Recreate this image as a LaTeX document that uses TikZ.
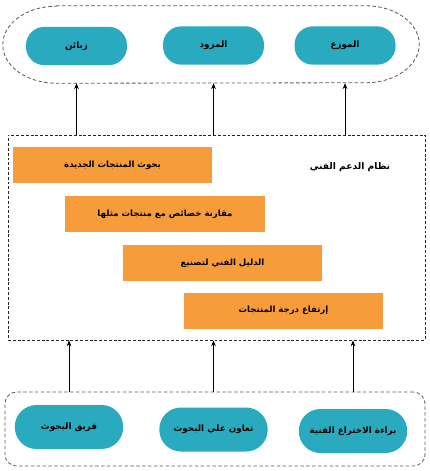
\documentclass[tikz,border=0pt]{standalone}
\usepackage{fontspec}
\newfontfamily\arabicfont[Script=Arabic]{DejaVu Sans}
\TeXXeTstate=1
\usepackage{xcolor}
\usetikzlibrary{arrows.meta,positioning}
\definecolor{cPill}{HTML}{2AAABF}
\definecolor{cBar}{HTML}{F69C3A}
\definecolor{cDash}{HTML}{5A5A5A}
\newcommand{\artxt}[1]{{\arabicfont\bfseries\beginR #1\endR}}

\begin{document}
\begin{tikzpicture}[x=0.03cm,y=-0.03cm,
  frame/.style={draw=cDash,dash pattern=on 3pt off 2pt,line width=0.7pt,inner sep=0pt},
  pill/.style={fill=cPill,rounded corners=0.55cm,minimum width=3.03cm,minimum height=1.15cm,
    inner sep=0pt,font=\fontsize{7.5}{9}\selectfont},
  bpill/.style={pill,rounded corners=0.65cm,minimum width=3.25cm,minimum height=1.32cm},
  bar/.style={fill=cBar,minimum width=5.97cm,minimum height=1.08cm,inner sep=0pt,
    font=\fontsize{7.3}{8.5}\selectfont},
  flow/.style={-{Stealth[length=5pt,width=4pt]},line width=0.6pt}]

  \useasboundingbox (0,0) rectangle (430,471);

  % top group
  \node[minimum width=12.48cm,minimum height=2.31cm,inner sep=0pt] (dist) at (211,44.5) {};
  \draw[frame] ([xshift=1.6cm]dist.north west) -- ([xshift=-1.6cm]dist.north east)
    arc[start angle=90,end angle=-90,x radius=1.6cm,y radius=1.155cm]
    -- ([xshift=1.6cm]dist.south west)
    arc[start angle=270,end angle=90,x radius=1.6cm,y radius=1.155cm] -- cycle;
  \node[pill] (zb) at (76.5,46)   {\artxt{زبائن}};
  \node[pill] (mz) at (213.5,45.5) {\artxt{المزود}};
  \node[pill] (mw) at (345,45.5)  {\artxt{الموزع}};

  % support system
  \node[frame,draw=black!85,dash pattern=on 2.5pt off 1.6pt,minimum width=12.51cm,minimum height=6.15cm] (sys) at (216.5,237.5) {};
  \node[font=\fontsize{7.8}{9}\selectfont] (lbl) at (350,167) {\artxt{نظام الدعم الفني}};
  \node[bar] (b1) at (112.5,165) {\artxt{بحوث المنتجات الجديدة}};
  \node[bar] (b2) at (165,214)   {\artxt{مقارنة خصائص مع منتجات مثلها}};
  \node[bar] (b3) at (222.5,263) {\artxt{الدليل الفني لتصنيع}};
  \node[bar] (b4) at (283.5,310.5) {\artxt{إرتفاع درجة المنتجات}};

  % bottom group
  \node[frame,rounded corners=0.35cm,minimum width=12.6cm,minimum height=2.22cm] (res) at (215,429) {};
  \node[bpill] (fb) at (69,427)    {\artxt{فريق البحوث}};
  \node[bpill] (tb) at (213.5,429.5) {\artxt{تعاون علي البحوث}};
  \node[bpill] (br) at (353,431)   {\artxt{براءة الاختراع الفنية}};

  \draw[flow] (sys.north -| zb) -- (dist.south -| zb);
  \draw[flow] (sys.north -| mz) -- (dist.south -| mz);
  \draw[flow] (sys.north -| mw) -- (dist.south -| mw);
  \draw[flow] (res.north -| fb) -- (sys.south -| fb);
  \draw[flow] (res.north -| tb) -- (sys.south -| tb);
  \draw[flow] (res.north -| br) -- (sys.south -| br);
\end{tikzpicture}
\end{document}
